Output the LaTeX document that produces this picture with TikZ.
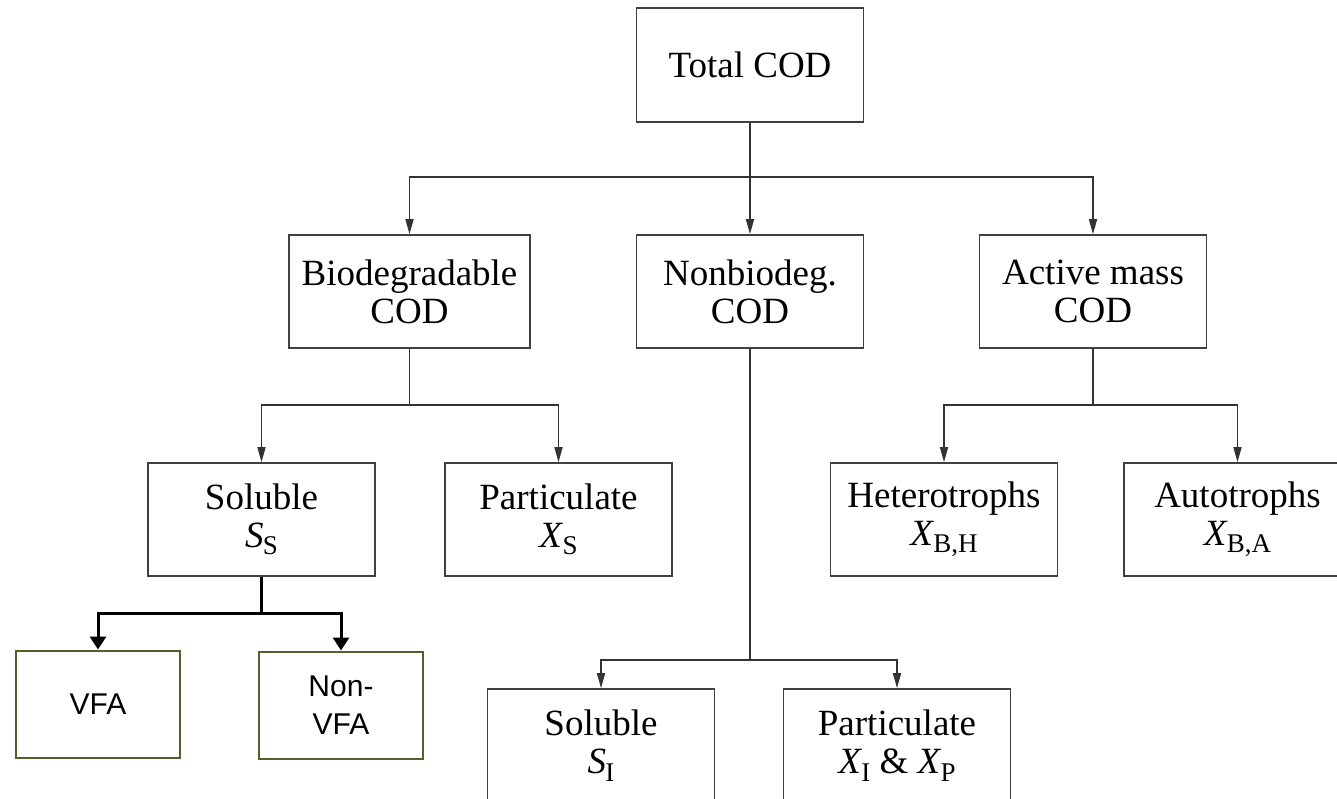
\documentclass[tikz,border=0pt]{standalone}
\usepackage{fontspec}
\setmainfont{Liberation Serif}
\newfontfamily\arialfont{Liberation Sans}
\usetikzlibrary{arrows.meta}
\definecolor{olivebox}{HTML}{4F6228}
% italic symbol with an upright, lowered subscript
\newcommand\vsub[2]{\textit{#1}\kern-0.02em\raisebox{-0.2em}{\fontsize{27}{27}\selectfont #2}}

\begin{document}
\begin{tikzpicture}[x=1pt,y=-1pt,
  box/.style={draw=black!75, line width=1.6pt, fill=white, align=center,
    minimum width=227pt, minimum height=113pt, inner sep=0pt,
    font=\fontsize{37}{38}\selectfont},
  vbox/.style={draw=olivebox, line width=2pt, fill=white, align=center,
    minimum width=164pt, minimum height=107pt, inner sep=0pt,
    font=\arialfont\fontsize{30}{38}\selectfont},
  link/.style={draw=black!80, line width=1.5pt},
  arr/.style={link, -{Triangle[length=15pt,width=8pt]}},
  tarr/.style={draw=black, line width=3pt, -{Triangle[length=13pt,width=16pt]}}]

\clip (0,0) rectangle (1337,798);

% boxes
\node[box, minimum height=114pt] (total) at (750,65) {Total COD};
\node[box, minimum width=241pt] (bio) at (409.5,291.5) {Biodegradable\\COD};
\node[box] (nonbio) at (750,291.5) {Nonbiodeg.\\COD};
\node[box] (active) at (1093,291.5) {Active mass\\COD};
\node[box] (ss) at (261.5,519.5) {Soluble\\\vsub{S}{S}};
\node[box] (xs) at (558.5,519.5) {Particulate\\\vsub{X}{S}};
\node[box] (xbh) at (944,519.5) {Heterotrophs\\\vsub{X}{B,H}};
\node[box] (xba) at (1237.5,519.5) {Autotrophs\\\vsub{X}{B,A}};
\node[box] (si) at (601,745.5) {Soluble\\\vsub{S}{I}};
\node[box] (xip) at (897,745.5) {Particulate\\\vsub{X}{I} \& \vsub{X}{P}};
\node[vbox] (vfa) at (98,704) {VFA};
\node[vbox] (nvfa) at (341,705) {Non-\\VFA};

% junction points of the tree
\coordinate (t1) at (750,177);
\coordinate (b1) at (409.5,405);
\coordinate (a1) at (1093,405);
\coordinate (n1) at (750,660);
\coordinate (s1) at (261.5,613);

% connectors
\draw[link] (total.south) -- (t1);
\draw[arr] (t1) -| (bio.north);
\draw[arr] (t1) -- (nonbio.north);
\draw[arr] (t1) -| (active.north);

\draw[link] (bio.south) -- (b1);
\draw[arr] (b1) -| (ss.north);
\draw[arr] (b1) -| (xs.north);

\draw[link] (active.south) -- (a1);
\draw[arr] (a1) -| (xbh.north);
\draw[arr] (a1) -| (xba.north);

\draw[link] (nonbio.south) -- (n1);
\draw[arr] (n1) -| (si.north);
\draw[arr] (n1) -| (xip.north);

\draw[draw=black, line width=3pt] (ss.south) -- (s1);
\draw[tarr] (s1) -| (vfa.north);
\draw[tarr] (s1) -| (nvfa.north);
\end{tikzpicture}
\end{document}
